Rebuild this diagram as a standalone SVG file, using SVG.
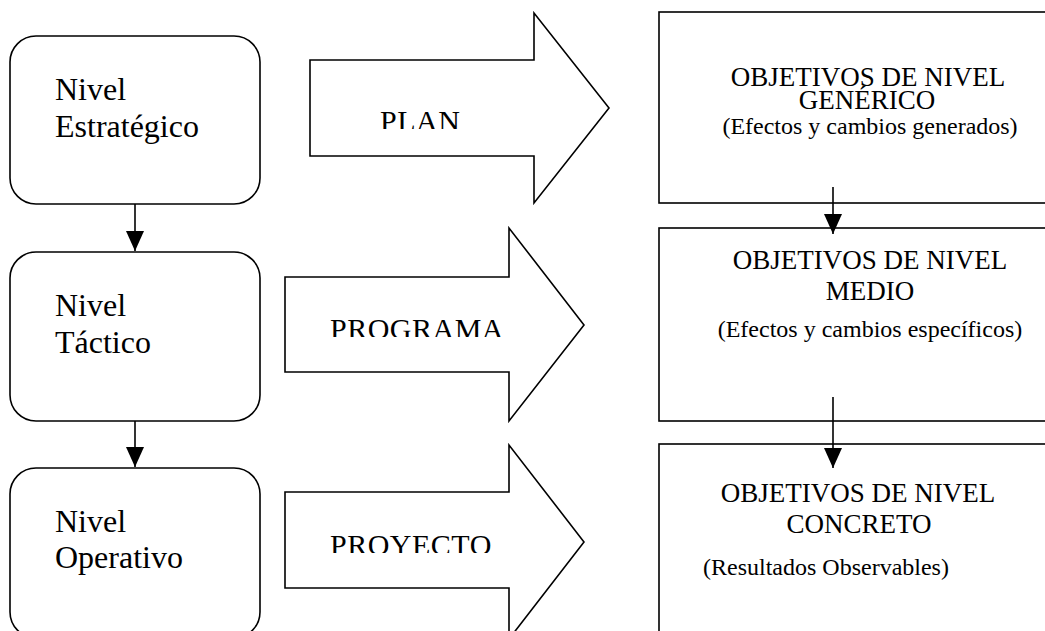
<svg xmlns="http://www.w3.org/2000/svg" width="1045" height="631" viewBox="0 0 1045 631">
<style>
.shape{fill:#fff;stroke:#000;stroke-width:1.6}
.lbl{fill:#000}
.big{font-size:32px}
.arr{font-size:30px}
.hd{font-size:27px;text-anchor:middle}
.sub{font-size:24px}
.conn{stroke:#000;stroke-width:1.6;fill:none}
</style>
<defs>
<marker id="ah" viewBox="0 0 20 18" refX="20" refY="9" markerWidth="20" markerHeight="18" markerUnits="userSpaceOnUse" orient="auto">
<path d="M0,0 L20,9 L0,18 Z" fill="#000"/>
</marker>
<clipPath id="c1"><rect x="300" y="90" width="220" height="39"/></clipPath>
<clipPath id="c2"><rect x="290" y="300" width="225" height="37"/></clipPath>
<clipPath id="c3"><rect x="290" y="515" width="225" height="38"/></clipPath>
</defs>
<rect width="1045" height="631" fill="#fff"/>

<g font-family="Liberation Serif, DejaVu Serif, serif">
<g id="nivel-estrategico">
<rect class="shape" x="10" y="36" width="250" height="168" rx="26"/>
<text class="lbl big" x="55" y="100">Nivel</text>
<text class="lbl big" x="55" y="137">Estratégico</text>
</g>
<g id="nivel-tactico">
<rect class="shape" x="10" y="252" width="250" height="169" rx="26"/>
<text class="lbl big" x="55" y="316">Nivel</text>
<text class="lbl big" x="55" y="353">Táctico</text>
</g>
<g id="nivel-operativo">
<rect class="shape" x="10" y="468" width="250" height="170" rx="26"/>
<text class="lbl big" x="55" y="532">Nivel</text>
<text class="lbl big" x="55" y="568">Operativo</text>
</g>

<g id="plan">
<path class="shape" d="M310,60 H534 V13 L609,108 L534,203 V156 H310 Z"/>
<text class="lbl arr" x="380" y="131" clip-path="url(#c1)" letter-spacing="0.5">PLAN</text>
</g>
<g id="programa">
<path class="shape" d="M285,277 H509 V228 L584,325 L509,421 V372 H285 Z"/>
<text class="lbl arr" x="330" y="339" clip-path="url(#c2)" letter-spacing="0.5">PROGRAMA</text>
</g>
<g id="proyecto">
<path class="shape" d="M285,492 H509 V445 L584,542 L509,639 V588 H285 Z"/>
<text class="lbl arr" x="330" y="555" clip-path="url(#c3)" letter-spacing="0.5">PROYECTO</text>
</g>

<g id="obj-generico">
<rect class="shape" x="659" y="12" width="400" height="191"/>
<text class="lbl hd" x="868" y="86">OBJETIVOS DE NIVEL</text>
<text class="lbl hd" x="867" y="109">GENÉRICO</text>
<text class="lbl sub" x="870" y="134" text-anchor="middle">(Efectos y cambios generados)</text>
</g>
<g id="obj-medio">
<rect class="shape" x="659" y="228" width="400" height="193"/>
<text class="lbl hd" x="870" y="269">OBJETIVOS DE NIVEL</text>
<text class="lbl hd" x="870" y="300">MEDIO</text>
<text class="lbl sub" x="870" y="337" text-anchor="middle">(Efectos y cambios específicos)</text>
</g>
<g id="obj-concreto">
<rect class="shape" x="659" y="444" width="400" height="200"/>
<text class="lbl hd" x="858" y="502">OBJETIVOS DE NIVEL</text>
<text class="lbl hd" x="859" y="533">CONCRETO</text>
<text class="lbl sub" x="703" y="575">(Resultados Observables)</text>
</g>
</g>

<g id="connectors">
<line class="conn" x1="135" y1="204" x2="135" y2="251" marker-end="url(#ah)"/>
<line class="conn" x1="135" y1="421" x2="135" y2="467" marker-end="url(#ah)"/>
<line class="conn" x1="833" y1="187" x2="833" y2="234" marker-end="url(#ah)"/>
<line class="conn" x1="833" y1="397" x2="833" y2="468" marker-end="url(#ah)"/>
</g>
</svg>
